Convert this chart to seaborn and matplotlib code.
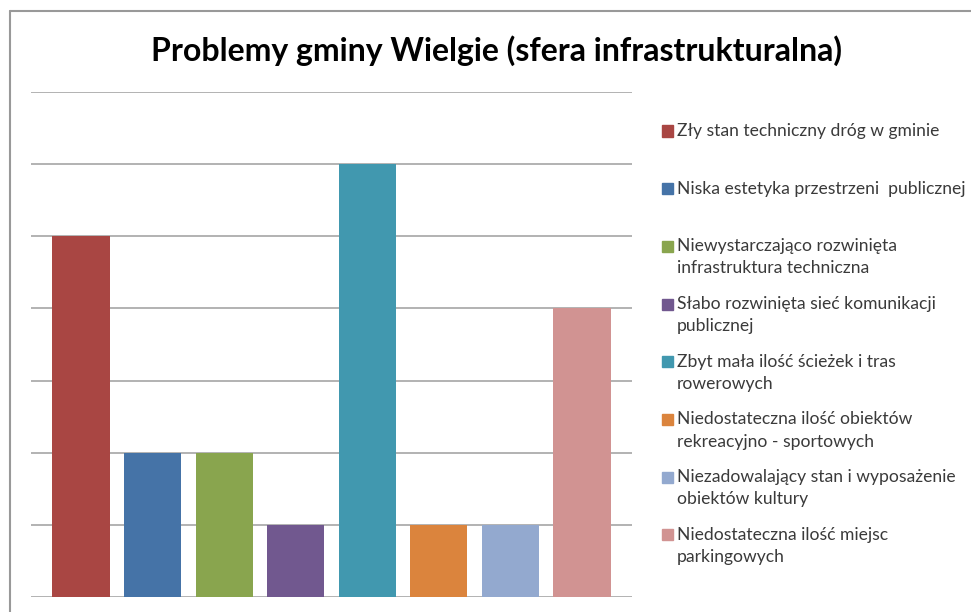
import matplotlib
matplotlib.use("Agg")
import matplotlib.pyplot as plt
import seaborn as sns
import pandas as pd
from matplotlib.lines import Line2D
from matplotlib.patches import Rectangle

# data
categories = [
    "Zły stan techniczny dróg w gminie",
    "Niska estetyka przestrzeni  publicznej",
    "Niewystarczająco rozwinięta\ninfrastruktura techniczna",
    "Słabo rozwinięta sieć komunikacji\npublicznej",
    "Zbyt mała ilość ścieżek i tras\nrowerowych",
    "Niedostateczna ilość obiektów\nrekreacyjno - sportowych",
    "Niezadowalający stan i wyposażenie\nobiektów kultury",
    "Niedostateczna ilość miejsc\nparkingowych",
]
values = [5, 2, 2, 1, 6, 1, 1, 4]
colors = ["#A94643", "#4573A7", "#89A54E", "#71588F",
          "#4198AF", "#DB843D", "#93A9CF", "#D19392"]

df = pd.DataFrame({"problem": categories, "count": values})

sns.set_style("white")
plt.rcParams["font.family"] = ["Lato", "DejaVu Sans"]

W, H = 971, 612
fig = plt.figure(figsize=(W / 100, H / 100), dpi=100)
ax = fig.add_axes([31 / W, 15 / H, 601 / W, 505 / H])

sns.barplot(data=df, x="problem", y="count", hue="problem",
            palette=colors, width=0.8, legend=False, ax=ax,
            saturation=1, edgecolor="none")

ax.set_xlim(-0.7, 7.7)
ax.set_ylim(0, 7)
ax.set_yticks(range(0, 8))
ax.yaxis.grid(True, color="#a6a6a6", linewidth=1.2)
ax.set_axisbelow(True)
ax.set_xticks([])
ax.set_yticklabels([])
ax.tick_params(left=False, bottom=False)
ax.set_xlabel("")
ax.set_ylabel("")
for s in ax.spines.values():
    s.set_visible(False)

# title
fig.text(496 / W, 1 - 51 / H, "Problemy gminy Wielgie (sfera infrastrukturalna)",
         ha="center", va="center", fontsize=23, fontweight="bold", color="black")

# legend drawn by hand to keep Excel-like fixed slots
for i, (lab, col) in enumerate(zip(categories, colors)):
    y0 = 131 + 57.7 * i
    fig.add_artist(Rectangle((662 / W, 1 - (y0 + 5.5) / H), 11 / W, 11 / H,
                             transform=fig.transFigure, color=col))
    for k, line in enumerate(lab.split("\n")):
        fig.text(677 / W, 1 - (y0 + 22 * k) / H, line, ha="left", va="center",
                 fontsize=12.6, color="#3a3a3a")

# outer chart frame (top and left edges visible)
fig.add_artist(Line2D([9.5 / W, 1], [1 - 11 / H, 1 - 11 / H],
                      transform=fig.transFigure, color="#999999", linewidth=1.5))
fig.add_artist(Line2D([9.5 / W, 9.5 / W], [0, 1 - 11 / H],
                      transform=fig.transFigure, color="#999999", linewidth=1.5))

fig.savefig("out.png", dpi=100, facecolor="white")
